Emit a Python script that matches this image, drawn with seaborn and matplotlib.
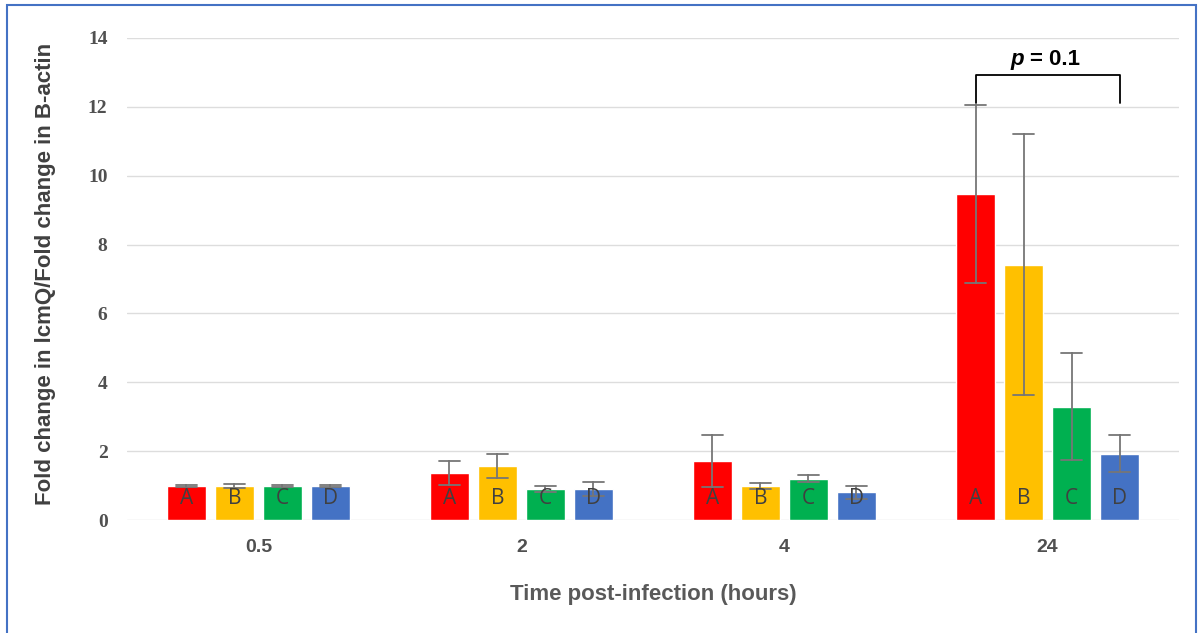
import numpy as np
import pandas as pd
import matplotlib
matplotlib.use("Agg")
import matplotlib.pyplot as plt
from matplotlib.patches import Rectangle
import seaborn as sns

# ---- data ----
times = ["0.5", "2", "4", "24"]
groups = ["A", "B", "C", "D"]
means_A = [1.0, 1.36, 1.71, 9.47]
means_B = [1.0, 1.57, 0.98, 7.42]
means_C = [1.0, 0.90, 1.20, 3.29]
means_D = [1.0, 0.90, 0.80, 1.93]
err_A = [0.03, 0.34, 0.75, 2.58]
err_B = [0.06, 0.34, 0.09, 3.80]
err_C = [0.03, 0.08, 0.10, 1.55]
err_D = [0.03, 0.20, 0.20, 0.55]
colors = ["#FF0000", "#FFC000", "#00B050", "#4472C4"]
y_ticks = [0, 2, 4, 6, 8, 10, 12, 14]
p_text = "0.1"

means = {"A": means_A, "B": means_B, "C": means_C, "D": means_D}
errs = {"A": err_A, "B": err_B, "C": err_C, "D": err_D}

rows = []
for g in groups:
    for t, m, e in zip(times, means[g], errs[g]):
        rows.append({"time": t, "group": g, "value": m - e})
        rows.append({"time": t, "group": g, "value": m + e})
df = pd.DataFrame(rows)

sns.set_theme(style="white")
plt.rcParams["font.family"] = ["Liberation Sans", "DejaVu Sans"]

fig = plt.figure(figsize=(12.01, 6.33), dpi=100)
ax = fig.add_axes([0.1057, 0.1785, 0.876, 0.7615])

sns.barplot(data=df, x="time", y="value", hue="group", order=times,
            hue_order=groups, palette=colors, estimator="mean",
            errorbar=lambda v: (v.min(), v.max()),
            width=0.73, gap=0.2, capsize=0.33,
            err_kws={"color": "#767676", "linewidth": 1.3},
            saturation=1, legend=False, ax=ax)

# letters inside bars
for cont, g in zip(ax.containers, groups):
    for bar in cont:
        cx = bar.get_x() + bar.get_width() / 2
        ax.text(cx, 0.62, g, ha="center", va="center", fontsize=15,
                color="#404040", family=["Open Sans", "DejaVu Sans"])

ax.set_ylim(0, 14)
ax.set_xlim(-0.5, 3.5)
ax.set_yticks(y_ticks)
ax.yaxis.grid(True, color="#DDDDDD", linewidth=1.0)
ax.set_axisbelow(True)
for s in ax.spines.values():
    s.set_visible(False)
ax.tick_params(axis="y", length=0, pad=14, labelsize=14, colors="#505050")
ax.tick_params(axis="x", length=0, pad=14, labelsize=14, colors="#505050")
for lab in ax.get_yticklabels():
    lab.set_fontweight("bold")
    lab.set_family(["Liberation Serif", "DejaVu Serif"])
for lab in ax.get_xticklabels():
    lab.set_fontweight("bold")
    lab.set_family(["Liberation Sans", "DejaVu Sans"])

ax.set_xlabel("Time post-infection (hours)", fontsize=16, color="#595959",
              fontweight="bold", labelpad=20)
ax.set_ylabel("Fold change in lcmQ/Fold change in B-actin", fontsize=16,
              color="#404040", fontweight="bold",
              family=["Liberation Sans Narrow", "Liberation Sans", "DejaVu Sans"])
ax.yaxis.set_label_coords(-0.0675, 0.51)

# significance bracket between A and D at 24 h
xa = ax.containers[0][3].get_x() + ax.containers[0][3].get_width() / 2
xd = ax.containers[3][3].get_x() + ax.containers[3][3].get_width() / 2
ax.plot([xa, xa, xd, xd], [12.1, 12.92, 12.92, 12.1], color="black",
        linewidth=1.3, clip_on=False)
xm = (xa + xd) / 2
ax.text(xm - 0.089, 13.08, "p", ha="right", va="bottom",
        fontsize=16, fontweight="bold", fontstyle="italic", color="black")
ax.text(xm - 0.068, 13.08, "= " + p_text, ha="left", va="bottom",
        fontsize=16, fontweight="bold", color="black")

# blue frame around chart
fig.patches.append(Rectangle((7 / 1201, -0.02), (1196 - 7) / 1201, 1 - 5 / 633 + 0.02,
                             transform=fig.transFigure, fill=False,
                             edgecolor="#4472C4", linewidth=1.5))

fig.savefig("out.png", dpi=100)
